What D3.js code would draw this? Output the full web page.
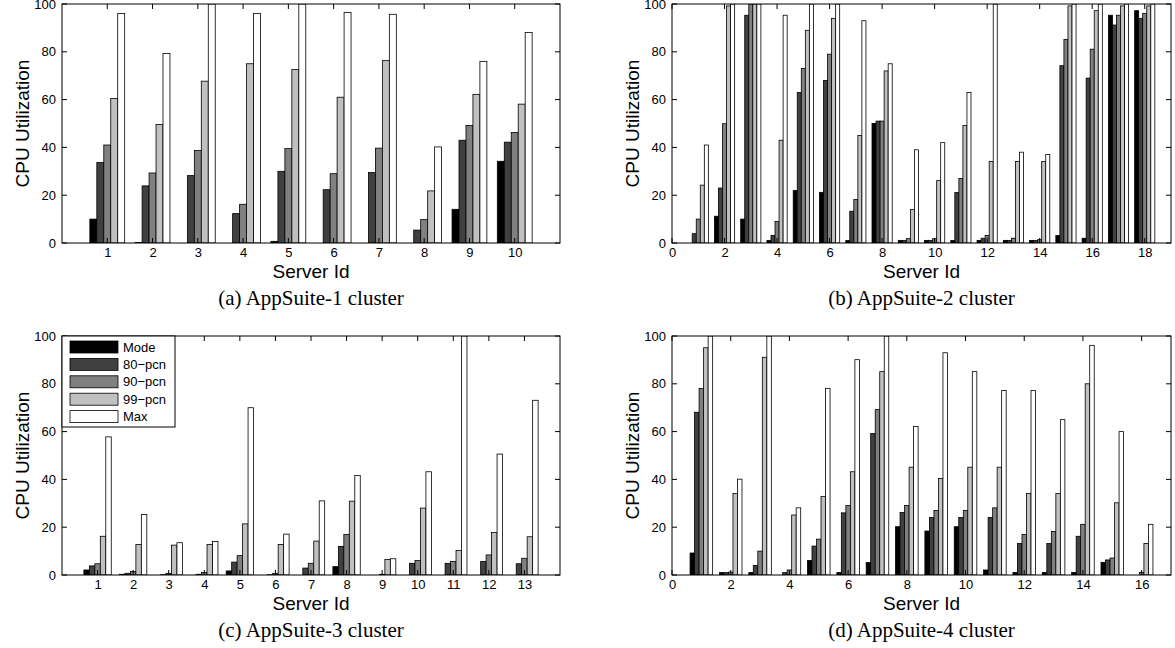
<!DOCTYPE html>
<html>
<head>
<meta charset="utf-8">
<script src="https://cdn.jsdelivr.net/npm/d3@7"></script>
<style>
  html, body { margin: 0; padding: 0; background: #fff; }
  svg { display: block; }
</style>
</head>
<body>
<svg id="chart" width="1175" height="648"></svg>
<script>
// ---------- DATA ----------
const seriesNames = ["Mode", "80\u2212pcn", "90\u2212pcn", "99\u2212pcn", "Max"];
const yTicks = [0, 20, 40, 60, 80, 100];

// (a) AppSuite-1 cluster, servers 1..10
const a1Mode = [10, 0.2, 0, 0, 0.7, 0, 0, 0, 14.1, 34.2];
const a1P80  = [33.7, 23.9, 28.2, 12.3, 30, 22.3, 29.5, 5.4, 43, 42.2];
const a1P90  = [41, 29.3, 38.7, 16.2, 39.5, 29, 39.7, 9.8, 49.2, 46.2];
const a1P99  = [60.5, 49.6, 67.7, 75, 72.6, 61, 76.3, 21.8, 62.2, 58.1];
const a1Max  = [96, 79.3, 100, 96, 100, 96.5, 95.7, 40.2, 76, 88.1];
const a1XTicks = [1, 2, 3, 4, 5, 6, 7, 8, 9, 10];

// (b) AppSuite-2 cluster, servers 1..18
const a2Mode = [0, 11.2, 10, 1.1, 22, 21.2, 1, 50, 1.1, 1.1, 1.1, 1.1, 1.1, 1.1, 3.1, 2, 95.3, 97.2];
const a2P80  = [3.9, 23, 95.3, 3.2, 63, 68, 13.3, 51, 1.1, 1.1, 21.1, 2, 1.1, 1.1, 74.2, 69, 91.2, 94];
const a2P90  = [10, 49.9, 100, 9, 73, 79, 18.2, 51, 1.8, 1.8, 27, 3.1, 2, 1.4, 85.2, 81.1, 95.3, 96.1];
const a2P99  = [24.2, 99.2, 100, 43, 89, 94, 45, 72, 14, 26.1, 49.2, 34.1, 34.1, 34.1, 99.2, 97.2, 99.2, 99.2];
const a2Max  = [41, 100, 100, 95.3, 100, 100, 93, 75, 39, 42, 63, 100, 38, 37, 100, 100, 100, 100];
const a2XTicks = [0, 2, 4, 6, 8, 10, 12, 14, 16, 18];

// (c) AppSuite-3 cluster, servers 1..13
const a3Mode = [2.1, 0.3, 0, 0, 1.7, 0, 0, 3.5, 0, 0, 0, 0, 0];
const a3P80  = [3.8, 0.7, 0.1, 0.3, 5.4, 0.1, 2.9, 12, 0, 4.9, 4.9, 5.7, 4.7];
const a3P90  = [4.7, 1.5, 0.7, 1.1, 8.1, 0.7, 4.9, 17, 0.3, 6.1, 5.7, 8.4, 7];
const a3P99  = [16.2, 12.8, 12.5, 12.8, 21.4, 12.8, 14.2, 30.9, 6.5, 28, 10.3, 17.8, 16];
const a3Max  = [57.8, 25.3, 13.5, 14, 70, 17.1, 31, 41.6, 6.8, 43.2, 100, 50.6, 73.1];
const a3XTicks = [1, 2, 3, 4, 5, 6, 7, 8, 9, 10, 11, 12, 13];

// (d) AppSuite-4 cluster, servers 1..16
const a4Mode = [9.2, 1, 1, 0, 6.1, 1, 5.2, 20.2, 18.4, 20.2, 2.1, 1.1, 1.1, 1.1, 5.3, 0];
const a4P80  = [68.1, 1, 4, 1, 12.1, 26, 59.2, 26.2, 24.1, 24.1, 24.1, 13.2, 13.2, 16.2, 6.3, 0];
const a4P90  = [78, 1.2, 10, 2.1, 15, 29.1, 69.2, 29.1, 27, 27, 28.1, 17, 18.2, 21.2, 7.1, 1.1];
const a4P99  = [95.1, 34.1, 91.1, 25.1, 32.9, 43.2, 85.1, 45.1, 40.4, 45.1, 45.1, 34.1, 34.1, 80, 30.2, 13.2];
const a4Max  = [100, 40.1, 100, 28.1, 78.1, 90.1, 100, 62.1, 93, 85.1, 77.2, 77.2, 65, 96.1, 60, 21.2];
const a4XTicks = [0, 2, 4, 6, 8, 10, 12, 14, 16];

const captions = ["(a) AppSuite-1 cluster", "(b) AppSuite-2 cluster", "(c) AppSuite-3 cluster", "(d) AppSuite-4 cluster"];

// ---------- STYLE / LAYOUT ----------
const fills = ["#000000", "#404040", "#808080", "#c0c0c0", "#ffffff"];
const sansFont = "'Liberation Sans', Arial, Helvetica, sans-serif";
const serifFont = "'Liberation Serif', 'Times New Roman', serif";

const panels = [
  { series: [a1Mode, a1P80, a1P90, a1P99, a1Max], xmax: 11, ticks: a1XTicks, box: [62, 4, 560, 243], caption: captions[0], legend: false },
  { series: [a2Mode, a2P80, a2P90, a2P99, a2Max], xmax: 19, ticks: a2XTicks, box: [672, 4, 1171, 243], caption: captions[1], legend: false },
  { series: [a3Mode, a3P80, a3P90, a3P99, a3Max], xmax: 14, ticks: a3XTicks, box: [62, 336, 560, 575], caption: captions[2], legend: true },
  { series: [a4Mode, a4P80, a4P90, a4P99, a4Max], xmax: 17, ticks: a4XTicks, box: [672, 336, 1171, 575], caption: captions[3], legend: false }
];

const svg = d3.select("#chart");
const nS = seriesNames.length;
const groupW = Math.min(0.8, nS / (nS + 1.5));
const barW = groupW / nS;

panels.forEach((p, pi) => {
  const [x0, y0, x1, y1] = p.box;
  const x = d3.scaleLinear().domain([0, p.xmax]).range([x0, x1]);
  const y = d3.scaleLinear().domain([0, 100]).range([y1, y0]);
  const g = svg.append("g");

  const clipId = "clip" + pi;
  svg.append("clipPath").attr("id", clipId)
    .append("rect").attr("x", x0).attr("y", y0).attr("width", x1 - x0).attr("height", y1 - y0);

  // bars
  const rows = [];
  p.series.forEach((arr, si) => {
    arr.forEach((v, i) => rows.push({ server: i + 1, si, v }));
  });
  g.append("g").attr("clip-path", `url(#${clipId})`)
    .selectAll("rect").data(rows).join("rect")
    .attr("x", d => x(d.server + (d.si - (nS - 1) / 2) * barW - barW / 2))
    .attr("width", d => x(barW) - x(0))
    .attr("y", d => y(Math.min(d.v, 104)))
    .attr("height", d => y(0) - y(Math.min(d.v, 104)))
    .attr("fill", d => fills[d.si])
    .attr("stroke", "#000")
    .attr("stroke-width", 0.8);

  // axes
  const tickLen = 5;
  const axB = d3.axisBottom(x).tickValues(p.ticks).tickSize(0).tickPadding(5).tickFormat(d3.format("d"));
  const axL = d3.axisLeft(y).tickValues(yTicks).tickSize(0).tickPadding(6);
  const gb = g.append("g").attr("transform", `translate(0,${y1})`).call(axB);
  const gl = g.append("g").attr("transform", `translate(${x0},0)`).call(axL);
  [gb, gl].forEach(a => {
    a.select(".domain").remove();
    a.selectAll("text").attr("font-family", sansFont).attr("font-size", 13).attr("fill", "#000");
  });

  // inward ticks on all four sides
  const tg = g.append("g").attr("stroke", "#000").attr("stroke-width", 1);
  p.ticks.forEach(t => {
    tg.append("line").attr("x1", x(t)).attr("x2", x(t)).attr("y1", y1).attr("y2", y1 - tickLen);
    tg.append("line").attr("x1", x(t)).attr("x2", x(t)).attr("y1", y0).attr("y2", y0 + tickLen);
  });
  yTicks.forEach(t => {
    tg.append("line").attr("x1", x0).attr("x2", x0 + tickLen).attr("y1", y(t)).attr("y2", y(t));
    tg.append("line").attr("x1", x1).attr("x2", x1 - tickLen).attr("y1", y(t)).attr("y2", y(t));
  });

  // frame
  g.append("rect").attr("x", x0).attr("y", y0).attr("width", x1 - x0).attr("height", y1 - y0)
    .attr("fill", "none").attr("stroke", "#000").attr("stroke-width", 1);

  // axis titles
  g.append("text").attr("x", (x0 + x1) / 2).attr("y", y1 + 35)
    .attr("text-anchor", "middle").attr("font-family", sansFont).attr("font-size", 19)
    .text("Server Id");
  g.append("text")
    .attr("transform", `translate(${x0 - 33},${(y0 + y1) / 2}) rotate(-90)`)
    .attr("text-anchor", "middle").attr("font-family", sansFont).attr("font-size", 19)
    .text("CPU Utilization");

  // caption
  g.append("text").attr("x", (x0 + x1) / 2).attr("y", y1 + 62)
    .attr("text-anchor", "middle").attr("font-family", serifFont).attr("font-size", 21)
    .text(p.caption);

  // legend
  if (p.legend) {
    const lg = g.append("g");
    lg.append("rect").attr("x", x0).attr("y", y0).attr("width", 113).attr("height", 91)
      .attr("fill", "#fff").attr("stroke", "#000").attr("stroke-width", 1);
    seriesNames.forEach((name, i) => {
      const cy = y0 + 11 + i * 17.4;
      lg.append("rect").attr("x", x0 + 8).attr("y", cy - 6).attr("width", 48).attr("height", 12)
        .attr("fill", fills[i]).attr("stroke", "#000").attr("stroke-width", 0.8);
      lg.append("text").attr("x", x0 + 61).attr("y", cy).attr("dy", "0.35em")
        .attr("font-family", sansFont).attr("font-size", 13).text(name);
    });
  }
});
</script>
</body>
</html>
